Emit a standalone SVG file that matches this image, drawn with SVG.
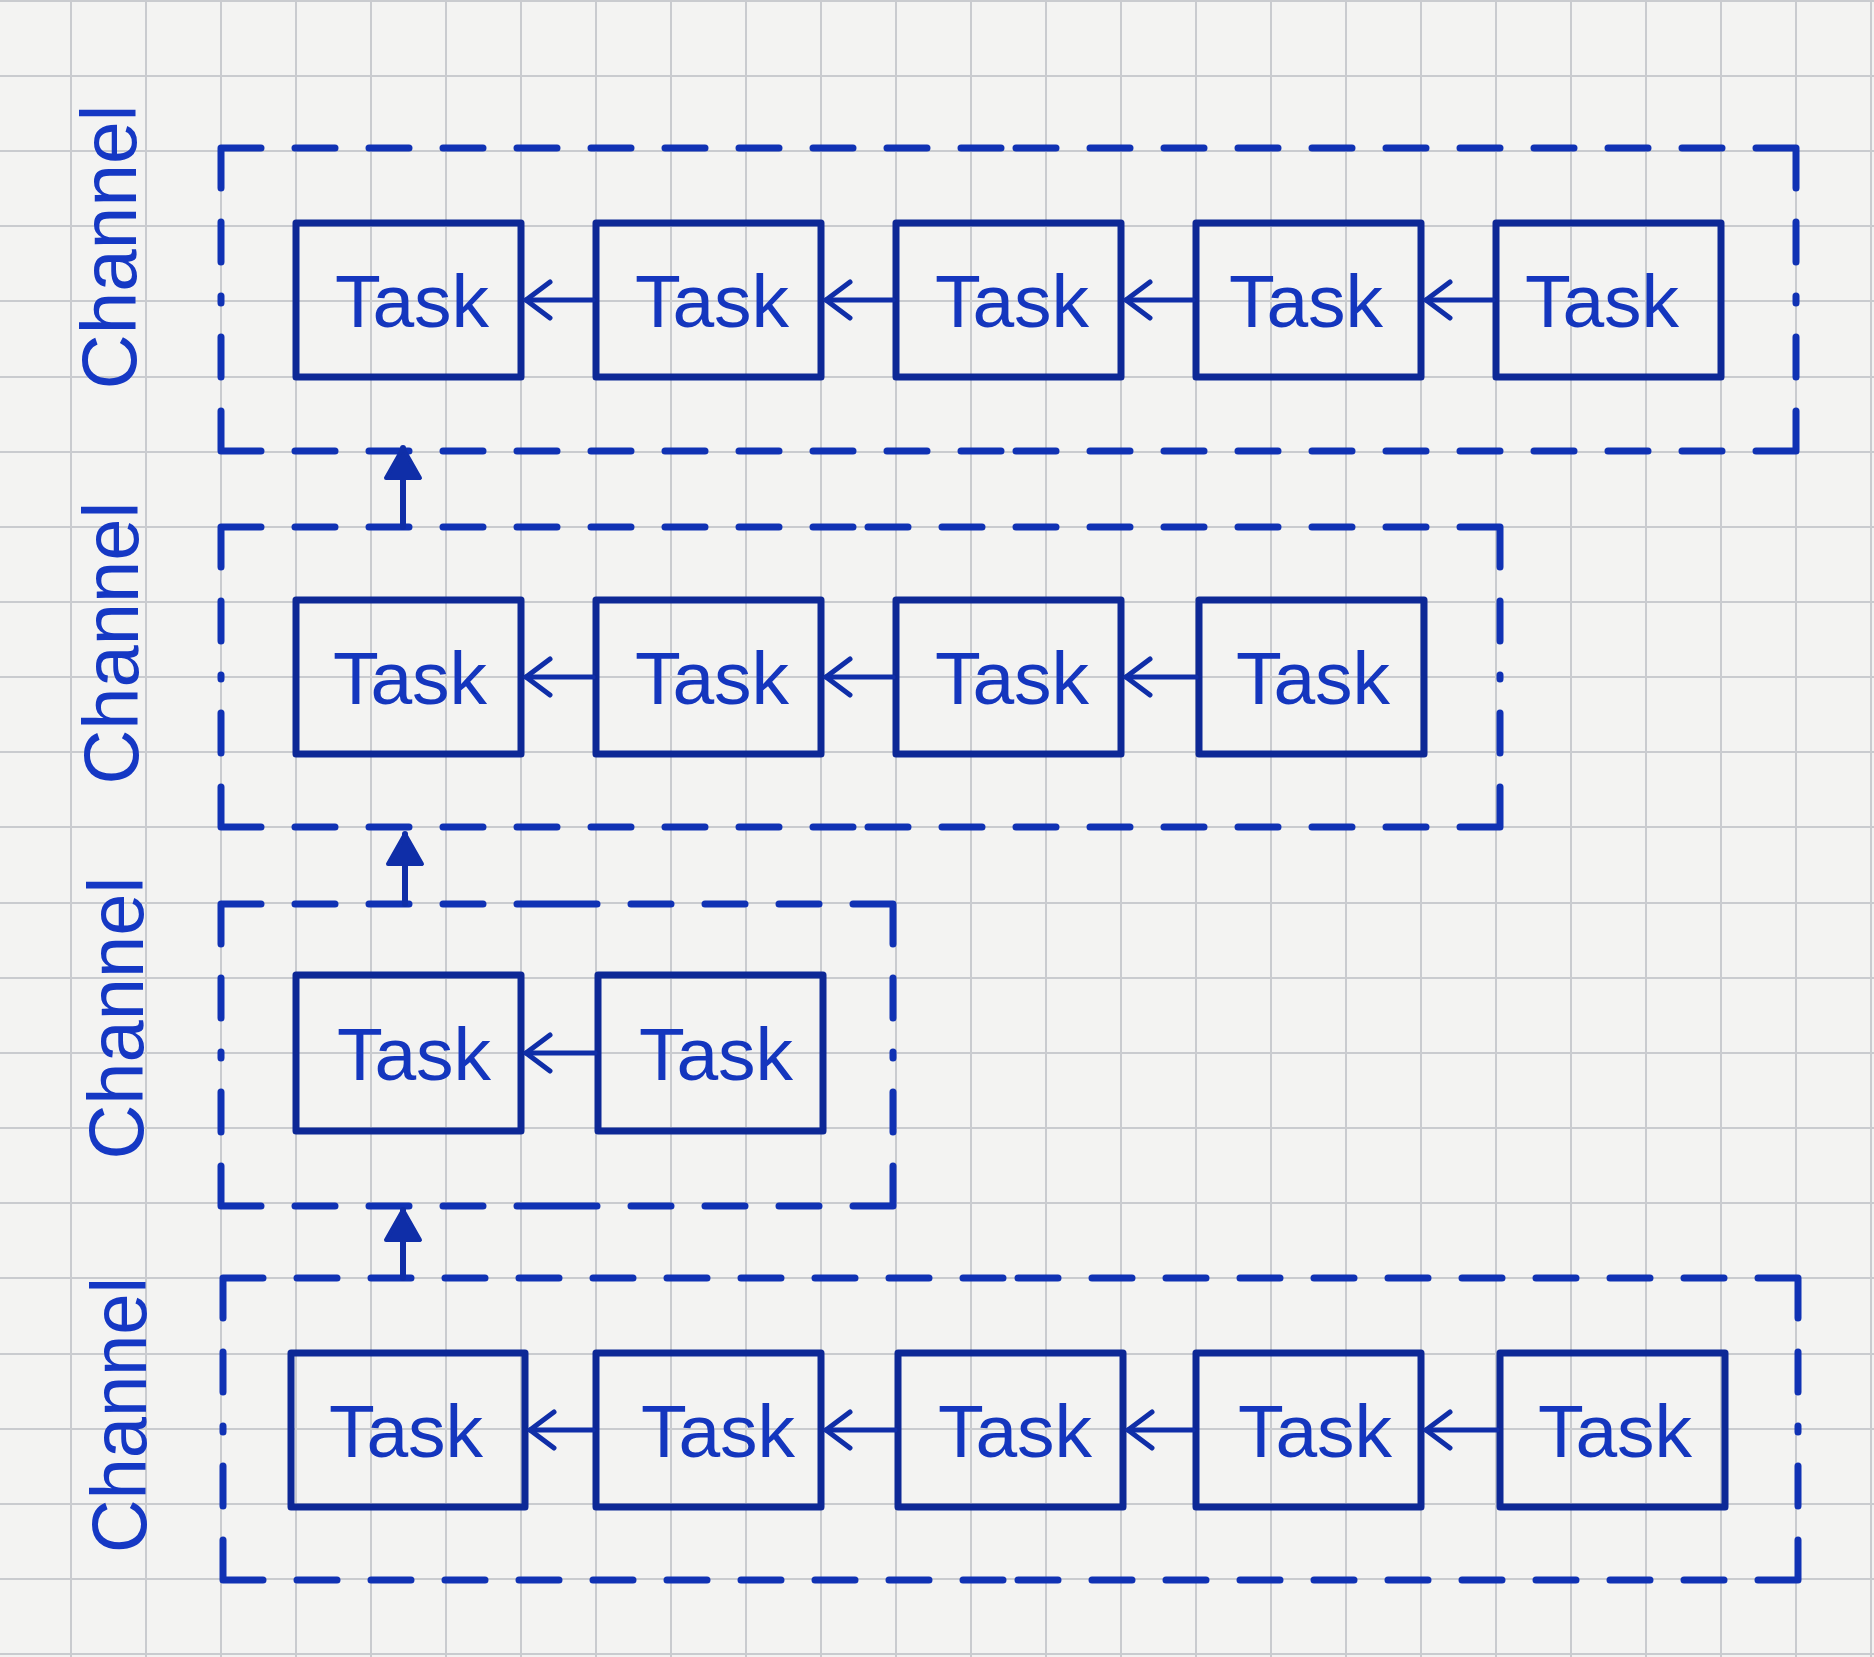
<svg xmlns="http://www.w3.org/2000/svg" width="1874" height="1657" viewBox="0 0 1874 1657">
<style>
.paper{fill:#f3f3f2}
.grid{stroke:#c9cbcf;stroke-width:2;fill:none}
.chan{fill:none;stroke:#1032b4;stroke-width:7;stroke-linecap:round;stroke-dasharray:40 34}
.box{fill:none;stroke:#0d2896;stroke-width:7;stroke-linejoin:round;stroke-linecap:round}
.task{font-family:"Liberation Sans",Arial,sans-serif;font-size:75px;fill:#1436be;text-anchor:middle}
.label{font-family:"Liberation Sans",Arial,sans-serif;font-size:78px;fill:#1538c4;text-anchor:middle}
.flow{fill:none;stroke:#0f2ea8;stroke-width:5;stroke-linecap:round}
.up{fill:none;stroke:#0f2ea8;stroke-width:6;stroke-linecap:round}
</style>
<defs>
<marker id="chev" markerUnits="userSpaceOnUse" markerWidth="36" markerHeight="46" viewBox="-32 -23 36 46" refX="0" refY="0" orient="auto">
<path d="M -24 -18 L 0 0 L -24 18" fill="none" stroke="#0f2ea8" stroke-width="5" stroke-linecap="round" stroke-linejoin="round"/>
</marker>
<marker id="tri" markerUnits="userSpaceOnUse" markerWidth="40" markerHeight="44" viewBox="-36 -22 40 44" refX="0" refY="0" orient="auto">
<path d="M -30 -17 L 0 0 L -30 17 Z" fill="#0f2ea8" stroke="#0f2ea8" stroke-width="4" stroke-linejoin="round"/>
</marker>
</defs>
<rect class="paper" x="0" y="0" width="1874" height="1657"/>
<path class="grid" d="M-4 0V1657M71 0V1657M146 0V1657M221 0V1657M296 0V1657M371 0V1657M446 0V1657M521 0V1657M596 0V1657M671 0V1657M746 0V1657M821 0V1657M896 0V1657M971 0V1657M1046 0V1657M1121 0V1657M1196 0V1657M1271 0V1657M1346 0V1657M1421 0V1657M1496 0V1657M1571 0V1657M1646 0V1657M1721 0V1657M1796 0V1657M1871 0V1657M0 1H1874M0 76H1874M0 151H1874M0 226H1874M0 301H1874M0 377H1874M0 452H1874M0 527H1874M0 602H1874M0 677H1874M0 752H1874M0 827H1874M0 903H1874M0 978H1874M0 1053H1874M0 1128H1874M0 1203H1874M0 1278H1874M0 1354H1874M0 1429H1874M0 1504H1874M0 1579H1874M0 1654H1874"/>

<g id="channel-1">
<path class="chan" d="M221 148H1008M1796 148H1008M221 451H1008M1796 451H1008M221 148V299M221 451V299M1796 148V299M1796 451V299"/>
<text class="label" transform="translate(136,247) rotate(-90)" textLength="285" lengthAdjust="spacingAndGlyphs">Channel</text>
</g>
<g id="channel-2">
<path class="chan" d="M221 527H860M1500 527H860M221 827H860M1500 827H860M221 527V677M221 827V677M1500 527V677M1500 827V677"/>
<text class="label" transform="translate(138,643) rotate(-90)" textLength="283" lengthAdjust="spacingAndGlyphs">Channel</text>
</g>
<g id="channel-3">
<path class="chan" d="M221 904H557M893 904H557M221 1206H557M893 1206H557M221 904V1055M221 1206V1055M893 904V1055M893 1206V1055"/>
<text class="label" transform="translate(143,1018) rotate(-90)" textLength="283" lengthAdjust="spacingAndGlyphs">Channel</text>
</g>
<g id="channel-4">
<path class="chan" d="M223 1278H1010M1798 1278H1010M223 1580H1010M1798 1580H1010M223 1278V1429M223 1580V1429M1798 1278V1429M1798 1580V1429"/>
<text class="label" transform="translate(146,1415) rotate(-90)" textLength="276" lengthAdjust="spacingAndGlyphs">Channel</text>
</g>

<g id="task-1-1"><rect class="box" x="296" y="223" width="225" height="154"/><text class="task" x="412" y="327">Task</text></g>
<g id="task-1-2"><rect class="box" x="596" y="223" width="225" height="154"/><text class="task" x="712" y="327">Task</text></g>
<g id="task-1-3"><rect class="box" x="896" y="223" width="225" height="154"/><text class="task" x="1012" y="327">Task</text></g>
<g id="task-1-4"><rect class="box" x="1196" y="223" width="225" height="154"/><text class="task" x="1306" y="327">Task</text></g>
<g id="task-1-5"><rect class="box" x="1496" y="223" width="225" height="154"/><text class="task" x="1602" y="327">Task</text></g>

<g id="task-2-1"><rect class="box" x="296" y="600" width="225" height="154"/><text class="task" x="410" y="704">Task</text></g>
<g id="task-2-2"><rect class="box" x="596" y="600" width="225" height="154"/><text class="task" x="712" y="704">Task</text></g>
<g id="task-2-3"><rect class="box" x="896" y="600" width="225" height="154"/><text class="task" x="1012" y="704">Task</text></g>
<g id="task-2-4"><rect class="box" x="1199" y="600" width="225" height="154"/><text class="task" x="1313" y="704">Task</text></g>

<g id="task-3-1"><rect class="box" x="296" y="975" width="225" height="156"/><text class="task" x="414" y="1080">Task</text></g>
<g id="task-3-2"><rect class="box" x="598" y="975" width="225" height="156"/><text class="task" x="716" y="1080">Task</text></g>

<g id="task-4-1"><rect class="box" x="291" y="1353" width="234" height="154"/><text class="task" x="406" y="1457">Task</text></g>
<g id="task-4-2"><rect class="box" x="596" y="1353" width="225" height="154"/><text class="task" x="718" y="1457">Task</text></g>
<g id="task-4-3"><rect class="box" x="898" y="1353" width="225" height="154"/><text class="task" x="1015" y="1457">Task</text></g>
<g id="task-4-4"><rect class="box" x="1196" y="1353" width="225" height="154"/><text class="task" x="1315" y="1457">Task</text></g>
<g id="task-4-5"><rect class="box" x="1500" y="1353" width="225" height="154"/><text class="task" x="1615" y="1457">Task</text></g>

<g id="connectors">
<path class="flow" marker-end="url(#chev)" d="M593 300H526"/>
<path class="flow" marker-end="url(#chev)" d="M893 300H826"/>
<path class="flow" marker-end="url(#chev)" d="M1193 300H1126"/>
<path class="flow" marker-end="url(#chev)" d="M1493 300H1426"/>
<path class="flow" marker-end="url(#chev)" d="M593 677H526"/>
<path class="flow" marker-end="url(#chev)" d="M893 677H826"/>
<path class="flow" marker-end="url(#chev)" d="M1196 677H1126"/>
<path class="flow" marker-end="url(#chev)" d="M595 1053H526"/>
<path class="flow" marker-end="url(#chev)" d="M593 1430H530"/>
<path class="flow" marker-end="url(#chev)" d="M895 1430H826"/>
<path class="flow" marker-end="url(#chev)" d="M1193 1430H1128"/>
<path class="flow" marker-end="url(#chev)" d="M1497 1430H1426"/>
<path class="up" marker-end="url(#tri)" d="M403 527V448"/>
<path class="up" marker-end="url(#tri)" d="M405 904V834"/>
<path class="up" marker-end="url(#tri)" d="M403 1278V1210"/>
</g>
</svg>
